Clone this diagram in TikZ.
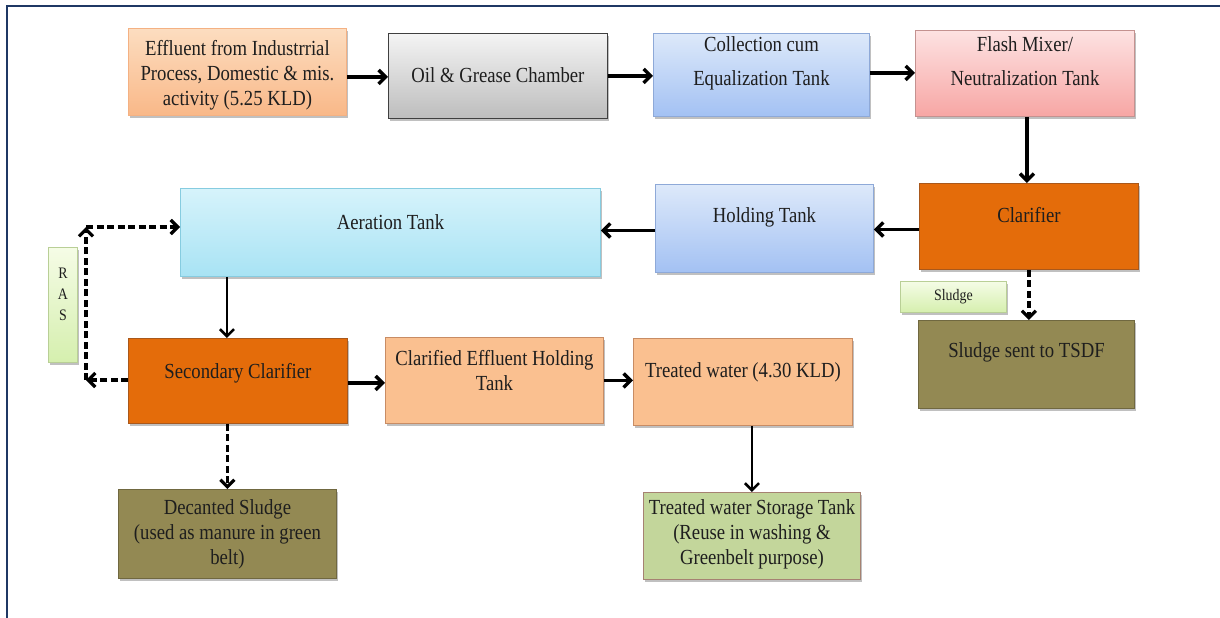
\documentclass[tikz,border=0pt]{standalone}
\usepackage{fontspec}
\setmainfont{Liberation Serif}[FakeStretch=0.87]
\usetikzlibrary{arrows.meta,shadows,calc}
\definecolor{navy}{HTML}{1F3864}
\definecolor{textc}{HTML}{1E1E1E}
\definecolor{effT}{HTML}{FCDDC0}
\definecolor{effB}{HTML}{F9B888}
\definecolor{effD}{HTML}{F4B183}
\definecolor{oilT}{HTML}{F4F4F4}
\definecolor{oilB}{HTML}{BDBDBD}
\definecolor{oilD}{HTML}{3F3F3F}
\definecolor{blueT}{HTML}{DDE9FA}
\definecolor{blueB}{HTML}{A3C1F3}
\definecolor{blueD}{HTML}{8EA9D8}
\definecolor{pinkT}{HTML}{FDE2E2}
\definecolor{pinkB}{HTML}{F7A6A4}
\definecolor{pinkD}{HTML}{C49290}
\definecolor{orng}{HTML}{E46C0A}
\definecolor{orngD}{HTML}{A9581B}
\definecolor{aerT}{HTML}{D6F3FB}
\definecolor{aerB}{HTML}{A8E3F4}
\definecolor{aerD}{HTML}{86CCE0}
\definecolor{peach}{HTML}{FAC090}
\definecolor{peachD}{HTML}{C88C64}
\definecolor{olive}{HTML}{938953}
\definecolor{oliveD}{HTML}{706840}
\definecolor{sgreen}{HTML}{C3D69B}
\definecolor{sgreenD}{HTML}{A68272}
\definecolor{lgT}{HTML}{F5FCE6}
\definecolor{lgB}{HTML}{D5EFAE}
\definecolor{lgD}{HTML}{B9CF96}
\tikzset{
  box/.style={rectangle, anchor=north west, inner sep=0pt, line width=0.9pt,
    drop shadow={shadow xshift=2pt, shadow yshift=-2.5pt, opacity=0.35, fill=black!70}},
  txt/.style={align=center, font=\fontsize{21.5}{25}\selectfont, text=textc, inner sep=0pt},
  smalltxt/.style={align=center, font=\fontsize{16}{21}\selectfont, text=textc, inner sep=0pt},
  arr/.style={line width=3.4pt, -{Straight Barb[length=7pt,width=14pt]}},
  thinarr/.style={line width=2.6pt, -{Straight Barb[length=7pt,width=14pt]}},
  darr/.style={line width=3.2pt, dash pattern=on 7pt off 3.5pt, -{Straight Barb[length=7pt,width=14pt]}},
}
\begin{document}
\begin{tikzpicture}[x=1pt,y=-1pt]
\useasboundingbox (0,0) rectangle (1220,618);
\fill[white] (0,0) rectangle (1220,618);
\draw[navy, line width=2.8pt] (7,620) -- (7,6) -- (1222,6);

% top row
\node[box, minimum width=218pt, minimum height=87pt, top color=effT, bottom color=effB, draw=effD] (eff) at (128,28) {};
\node[txt, yshift=-3pt] (efft) at (eff.center) {Effluent from Industrrial\\Process, Domestic \& mis.\\activity (5.25 KLD)};

\node[box, minimum width=219pt, minimum height=85pt, top color=oilT, bottom color=oilB, draw=oilD] (oil) at (388,33) {};
\node[txt, yshift=1pt] (oilt) at (oil.center) {Oil \& Grease Chamber};

\node[box, minimum width=216pt, minimum height=83pt, top color=blueT, bottom color=blueB, draw=blueD] (col) at (653,33) {};
\node[txt, yshift=12pt] (colt) at (col.center) {Collection cum\\[9pt]Equalization Tank};

\node[box, minimum width=219pt, minimum height=86pt, top color=pinkT, bottom color=pinkB, draw=pinkD] (fla) at (915,30) {};
\node[txt, yshift=12pt] (flat) at (fla.center) {Flash Mixer/\\[9pt]Neutralization Tank};

% middle row
\node[box, minimum width=219pt, minimum height=86pt, fill=orng, draw=orngD] (cla) at (919,183) {};
\node[txt, yshift=11pt] (clat) at (cla.center) {Clarifier};

\node[box, minimum width=218pt, minimum height=88pt, top color=blueT, bottom color=blueB, draw=blueD] (hol) at (655,184) {};
\node[txt, yshift=11pt] (holt) at (hol.center) {Holding Tank};

\node[box, minimum width=420pt, minimum height=88pt, top color=aerT, bottom color=aerB, draw=aerD] (aer) at (180,188) {};
\node[txt, yshift=10pt] (aert) at (aer.center) {Aeration Tank};

\node[box, minimum width=29pt, minimum height=115pt, top color=lgT, bottom color=lgB, draw=lgD] (ras) at (48,247) {};
\node[smalltxt, yshift=11pt] (rast) at (ras.center) {R\\A\\S};

\node[box, minimum width=106pt, minimum height=31pt, top color=lgT, bottom color=lgB, draw=lgD] (slab) at (900,281) {};
\node[smalltxt] (slabt) at (slab.center) {Sludge};

\node[box, minimum width=216pt, minimum height=88pt, fill=olive, draw=oliveD] (tsdf) at (918,320) {};
\node[txt, yshift=12pt] (tsdft) at (tsdf.center) {Sludge sent to TSDF};

% lower row
\node[box, minimum width=219pt, minimum height=85pt, fill=orng, draw=orngD] (sec) at (128,338) {};
\node[txt, yshift=8pt] (sect) at (sec.center) {Secondary Clarifier};

\node[box, minimum width=218pt, minimum height=86pt, fill=peach, draw=peachD] (cfh) at (385,337) {};
\node[txt, yshift=10pt] (cfht) at (cfh.center) {Clarified Effluent Holding\\Tank};

\node[box, minimum width=219pt, minimum height=87pt, fill=peach, draw=peachD] (tw) at (633,338) {};
\node[txt, yshift=10pt] (twt) at (tw.center) {Treated water (4.30 KLD)};

% bottom row
\node[box, minimum width=218pt, minimum height=89pt, fill=olive, draw=oliveD] (dec) at (118,489) {};
\node[txt] (dect) at (dec.center) {Decanted Sludge\\(used as manure in green\\belt)};

\node[box, minimum width=217pt, minimum height=87pt, fill=sgreen, draw=sgreenD] (sto) at (643,492) {};
\node[txt, yshift=2pt] (stot) at (sto.center) {Treated water Storage Tank\\(Reuse in washing \&\\Greenbelt purpose)};

% connectors
\draw[arr] ([yshift=-5pt]eff.east) -- ([yshift=-5pt]eff.east -| oil.west);
\draw[arr] (oil.east) -- (oil.east -| col.west);
\draw[arr] ([yshift=2pt]col.east) -- ([yshift=2pt]col.east -| fla.west);
\draw[arr] ([xshift=2pt]fla.south) -- ([xshift=2pt]fla.south |- cla.north);
\draw[arr] ([yshift=-3pt]cla.west) -- ([yshift=-3pt]cla.west -| hol.east);
\draw[arr] ([yshift=-2pt]hol.west) -- ([yshift=-2pt]hol.west -| aer.east);
\draw[thinarr] ([xshift=-11pt]sec.north |- aer.south) -- ([xshift=-11pt]sec.north);
\draw[arr] ([yshift=-2pt]sec.east) -- ([yshift=-2pt]sec.east -| cfh.west);
\draw[arr] (cfh.east) -- (cfh.east -| tw.west);
\draw[thinarr] (sto.north |- tw.south) -- (sto.north);
\draw[darr] (cla.south) -- (cla.south |- tsdf.north);
\draw[darr] (dec.north |- sec.south) -- (dec.north);

\coordinate (rb) at (86,380);
\coordinate (rt) at (86,227);
\draw[darr] (sec.west |- rb) -- (rb);
\draw[darr] (rb) -- (rt);
\draw[darr] (rt) -- (rt -| aer.west);
\end{tikzpicture}
\end{document}
